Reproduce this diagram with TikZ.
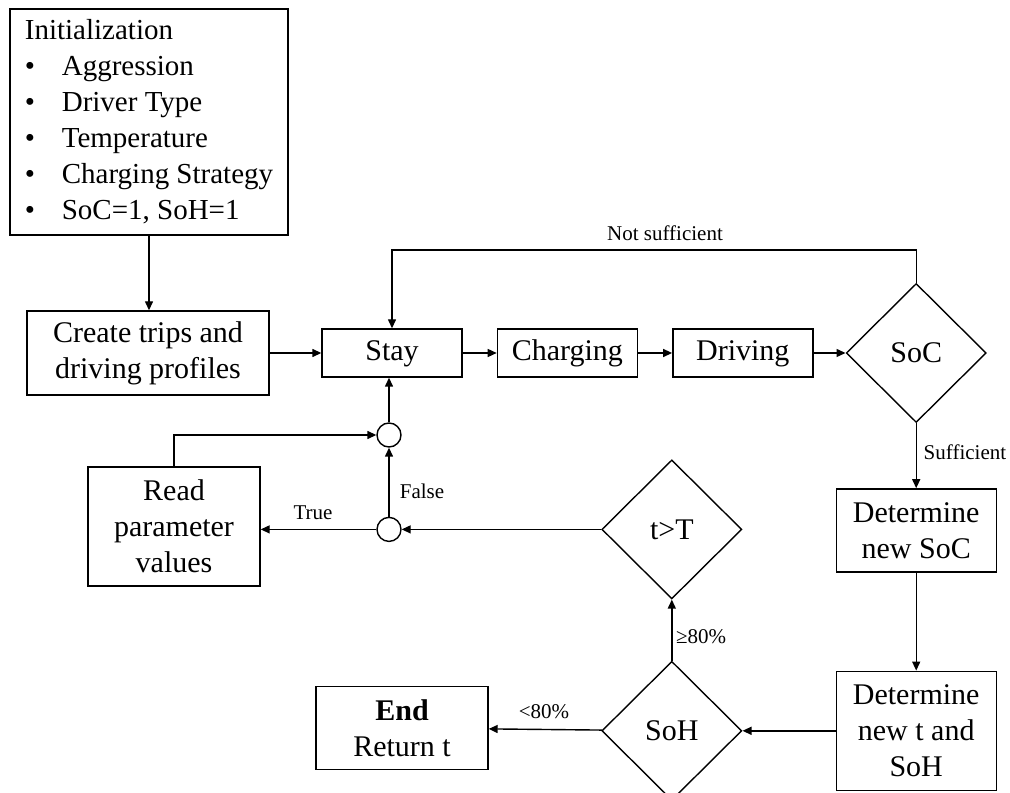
\documentclass[tikz,border=0pt]{standalone}
\usepackage{fontspec}
\setmainfont{Liberation Serif}
\usetikzlibrary{shapes.geometric,arrows.meta,positioning}

\begin{document}
\begin{tikzpicture}[
        x=0.5pt, y=0.5pt,
        line width=0.7pt,
        boxNode/.style={rectangle, draw, align=center, inner sep=0pt, font=\fontsize{15}{18}\selectfont},
        stepBox/.style={boxNode, minimum width=70pt, minimum height=24pt, text height=10.5pt, text depth=3pt},
        decisionNode/.style={diamond, draw, minimum width=70pt, minimum height=69.5pt, inner sep=0pt, font=\fontsize{15}{18}\selectfont},
        joinNode/.style={circle, draw, minimum size=12pt, inner sep=0pt},
        labelNode/.style={inner sep=1pt, font=\fontsize{10.5}{12}\selectfont},
        flowArrow/.style={-{Triangle[length=4.5pt,width=4pt]}}
    ]
        \useasboundingbox (0,0) rectangle (1010,792);

        % Initialization and main loop
        \node[boxNode, align=left, minimum width=139pt, minimum height=113pt,
              font=\fontsize{14.5}{18}\selectfont] (init) at (149,670)
            {Initialization\\
             \makebox[18.5pt][l]{\textbullet}Aggression\\
             \makebox[18.5pt][l]{\textbullet}Driver Type\\
             \makebox[18.5pt][l]{\textbullet}Temperature\\
             \makebox[18.5pt][l]{\textbullet}Charging Strategy\\
             \makebox[18.5pt][l]{\textbullet}SoC=1, SoH=1};
        \node[boxNode, minimum width=121pt, minimum height=42pt] (create) at (148,439) {Create trips and\\driving profiles};
        \node[stepBox] (stay) at (392,439) {Stay};
        \node[stepBox, right=17pt of stay] (charging) {Charging};
        \node[stepBox, right=17pt of charging] (driving) {Driving};
        \node[decisionNode, right=16pt of driving] (soc) {SoC};

        % Right column and decisions
        \node[boxNode, minimum width=80pt, minimum height=41.5pt, below=32.5pt of soc] (detSoc) {Determine\\new SoC};
        \node[boxNode, minimum width=80pt, minimum height=59.5pt, below=49pt of detSoc] (detT) {Determine\\new t and\\SoH};
        \node[decisionNode, left=46.5pt of detT] (soh) {SoH};
        \node[decisionNode, above=30.5pt of soh] (tT) {t>T};
        \node[boxNode, minimum width=86pt, minimum height=41.5pt] (end) at (402,64) {\textbf{End}\\Return t};

        % Junctions and parameter box
        \node[joinNode] (low) at (389,0 |- tT.west) {};
        \node[joinNode] (up) at (389,357) {};
        \node[boxNode, minimum width=86pt, minimum height=59.5pt] (read) at (174,265.5) {Read\\parameter\\values};
        \coordinate (nsTop) at (392,542);

        % Edge labels
        \node[labelNode] (nsLbl) at (665,559) {Not sufficient};
        \node[labelNode, anchor=west] (sufLbl) at (921,340) {Sufficient};
        \node[labelNode] (trueLbl) at (313,279) {True};
        \node[labelNode] (falseLbl) at (422,301) {False};
        \node[labelNode] (geLbl) at (701,155) {≥80\%};
        \node[labelNode] (ltLbl) at (544,80) {<80\%};

        % Edges
        \draw[flowArrow] (init.south) -- (init.south |- create.north);
        \draw[flowArrow] (create) -- (stay);
        \draw[flowArrow] (stay) -- (charging);
        \draw[flowArrow] (charging) -- (driving);
        \draw[flowArrow] (driving) -- (soc);
        \draw[flowArrow] (soc.north) |- (nsTop) -- (nsTop |- stay.north);
        \draw[flowArrow] (soc.south) -- (soc.south |- detSoc.north);
        \draw[flowArrow] (detSoc) -- (detT);
        \draw[flowArrow] (detT) -- (soh);
        \draw[flowArrow] (soh) -- (end);
        \draw[flowArrow] (soh) -- (tT);
        \draw[flowArrow] (tT) -- (low);
        \draw[flowArrow] (low) -- (low -| read.east);
        \draw[flowArrow] (low) -- (up);
        \draw[flowArrow] (up) -- (up |- stay.south);
        \draw[flowArrow] (read.north) |- (up);
    \end{tikzpicture}
\end{document}
